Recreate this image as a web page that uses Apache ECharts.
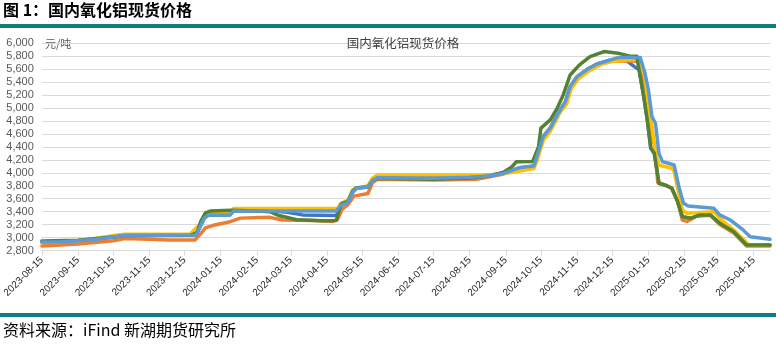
<!DOCTYPE html>
<html>
<head>
<meta charset="utf-8">
<script src="https://cdn.jsdelivr.net/npm/echarts@6/dist/echarts.min.js"></script>
<style>
  html, body { margin: 0; padding: 0; background: #ffffff; }
  #chart { width: 776px; height: 344px; }
</style>
</head>
<body>
<div id="chart"></div>
<script>
// 国内氧化铝现货价格（元/吨），各产区日度报价
const regionNames = ['地区A', '地区B', '地区C', '地区D', '地区E'];

const regionA = [
  ['2023-08-15', 2930], ['2023-09-15', 2950], ['2023-10-15', 3010], ['2023-10-25', 3030],
  ['2023-12-25', 3040], ['2023-12-28', 3150], ['2024-01-01', 3300], ['2024-01-05', 3350],
  ['2024-01-23', 3350], ['2024-01-26', 3410], ['2024-03-01', 3410], ['2024-03-12', 3390],
  ['2024-03-25', 3350], ['2024-04-23', 3340], ['2024-04-27', 3500], ['2024-05-03', 3540],
  ['2024-05-07', 3700], ['2024-05-10', 3760], ['2024-05-20', 3780], ['2024-05-24', 3880],
  ['2024-05-28', 3925], ['2024-08-15', 3930], ['2024-09-13', 3990], ['2024-09-27', 4080],
  ['2024-10-09', 4106], ['2024-10-12', 4276], ['2024-10-17', 4560], ['2024-10-23', 4690],
  ['2024-10-29', 4895], ['2024-11-05', 5100], ['2024-11-09', 5330], ['2024-11-15', 5486],
  ['2024-11-23', 5590], ['2024-12-02', 5680], ['2024-12-13', 5740], ['2024-12-20', 5760],
  ['2024-12-28', 5720], ['2025-01-03', 5640], ['2025-01-07', 5590], ['2025-01-11', 5177],
  ['2025-01-14', 4817], ['2025-01-17', 4380], ['2025-01-20', 4302], ['2025-01-24', 3839],
  ['2025-01-31', 3797], ['2025-02-04', 3761], ['2025-02-09', 3555], ['2025-02-13', 3323],
  ['2025-02-20', 3297], ['2025-02-28', 3349], ['2025-03-09', 3349], ['2025-03-17', 3220],
  ['2025-03-29', 3090], ['2025-04-09', 2885], ['2025-04-29', 2885]
];

const regionB = [
  ['2023-08-15', 2870], ['2023-09-15', 2900], ['2023-10-15', 2950], ['2023-10-25', 2985],
  ['2023-11-15', 2975], ['2023-12-01', 2962], ['2023-12-24', 2962], ['2023-12-29', 3060],
  ['2024-01-02', 3150], ['2024-01-08', 3185], ['2024-01-23', 3245], ['2024-02-01', 3300],
  ['2024-02-26', 3312], ['2024-03-08', 3270], ['2024-04-05', 3265], ['2024-04-20', 3248],
  ['2024-04-24', 3280], ['2024-04-28', 3440], ['2024-05-03', 3510], ['2024-05-08', 3640],
  ['2024-05-20', 3680], ['2024-05-24', 3850], ['2024-05-28', 3900], ['2024-07-15', 3890],
  ['2024-08-21', 3900], ['2024-09-10', 3970], ['2024-09-27', 4060], ['2024-10-09', 4100],
  ['2024-10-12', 4270], ['2024-10-17', 4560], ['2024-10-23', 4700], ['2024-10-29', 4890],
  ['2024-11-05', 5100], ['2024-11-09', 5330], ['2024-11-15', 5480], ['2024-11-23', 5590],
  ['2024-12-02', 5680], ['2024-12-13', 5720], ['2024-12-30', 5730], ['2025-01-06', 5720],
  ['2025-01-08', 5640], ['2025-01-11', 5300], ['2025-01-14', 4850], ['2025-01-18', 4480],
  ['2025-01-20', 4450], ['2025-01-23', 3850], ['2025-01-31', 3800], ['2025-02-04', 3760],
  ['2025-02-09', 3555], ['2025-02-13', 3271], ['2025-02-17', 3250], ['2025-02-25', 3330],
  ['2025-03-09', 3345], ['2025-03-17', 3200], ['2025-03-29', 3070], ['2025-04-09', 2870],
  ['2025-04-29', 2870]
];

const regionC = [
  ['2023-08-15', 2930], ['2023-09-15', 2955], ['2023-10-01', 2990], ['2023-10-15', 3030],
  ['2023-10-25', 3050], ['2023-12-20', 3055], ['2023-12-28', 3200], ['2024-01-02', 3340],
  ['2024-01-06', 3375], ['2024-01-24', 3380], ['2024-01-26', 3450], ['2024-04-24', 3450],
  ['2024-04-27', 3530], ['2024-05-03', 3580], ['2024-05-07', 3740], ['2024-05-20', 3800],
  ['2024-05-24', 3920], ['2024-05-28', 3965], ['2024-09-01', 3965], ['2024-09-13', 3985],
  ['2024-10-09', 4065], ['2024-10-12', 4200], ['2024-10-17', 4500], ['2024-10-23', 4640],
  ['2024-11-01', 4950], ['2024-11-06', 5060], ['2024-11-10', 5300], ['2024-11-16', 5450],
  ['2024-11-25', 5570], ['2024-12-05', 5670], ['2024-12-15', 5720], ['2024-12-30', 5745],
  ['2025-01-06', 5745], ['2025-01-08', 5667], ['2025-01-12', 5486], ['2025-01-15', 5022],
  ['2025-01-18', 4713], ['2025-01-21', 4302], ['2025-01-24', 4120], ['2025-02-04', 4070],
  ['2025-02-06', 4018], ['2025-02-10', 3684], ['2025-02-13', 3426], ['2025-02-17', 3375],
  ['2025-03-12', 3400], ['2025-03-17', 3297], ['2025-03-29', 3117], ['2025-04-11', 2885],
  ['2025-04-29', 2885]
];

const regionD = [
  ['2023-08-15', 2945], ['2023-09-15', 2960], ['2023-10-15', 3010], ['2023-10-25', 3030],
  ['2023-12-20', 3035], ['2023-12-26', 3080], ['2023-12-29', 3250], ['2024-01-02', 3380],
  ['2024-01-06', 3410], ['2024-01-24', 3420], ['2024-02-15', 3410], ['2024-02-26', 3400],
  ['2024-03-05', 3340], ['2024-03-20', 3275], ['2024-04-10', 3260], ['2024-04-23', 3265],
  ['2024-04-27', 3520], ['2024-05-03', 3560], ['2024-05-07', 3720], ['2024-05-10', 3770],
  ['2024-05-20', 3780], ['2024-05-24', 3880], ['2024-05-28', 3915], ['2024-07-15', 3900],
  ['2024-08-15', 3920], ['2024-09-01', 3950], ['2024-09-13', 4010], ['2024-09-20', 4090],
  ['2024-09-24', 4170], ['2024-10-08', 4175], ['2024-10-13', 4405], ['2024-10-15', 4690],
  ['2024-10-23', 4817], ['2024-10-29', 5000], ['2024-11-03', 5200], ['2024-11-09', 5510],
  ['2024-11-17', 5667], ['2024-11-26', 5795], ['2024-12-08', 5873], ['2024-12-20', 5848],
  ['2024-12-30', 5800], ['2025-01-05', 5800], ['2025-01-07', 5590], ['2025-01-11', 5177],
  ['2025-01-14', 4817], ['2025-01-17', 4380], ['2025-01-20', 4302], ['2025-01-24', 3839],
  ['2025-01-31', 3797], ['2025-02-04', 3761], ['2025-02-09', 3555], ['2025-02-13', 3323],
  ['2025-02-20', 3297], ['2025-02-28', 3349], ['2025-03-09', 3349], ['2025-03-17', 3220],
  ['2025-03-29', 3090], ['2025-04-09', 2885], ['2025-04-29', 2885]
];

const regionE = [
  ['2023-08-15', 2930], ['2023-09-01', 2935], ['2023-09-15', 2950], ['2023-10-01', 2975],
  ['2023-10-15', 3010], ['2023-10-25', 3030], ['2023-12-25', 3040], ['2023-12-28', 3150],
  ['2024-01-01', 3300], ['2024-01-05', 3350], ['2024-01-23', 3350], ['2024-01-26', 3410],
  ['2024-04-23', 3410], ['2024-04-27', 3500], ['2024-05-03', 3540], ['2024-05-07', 3700],
  ['2024-05-10', 3760], ['2024-05-20', 3780], ['2024-05-24', 3880], ['2024-05-28', 3925],
  ['2024-06-15', 3920], ['2024-07-15', 3915], ['2024-08-15', 3930], ['2024-09-01', 3950],
  ['2024-09-13', 3990], ['2024-09-27', 4080], ['2024-10-09', 4106], ['2024-10-12', 4276],
  ['2024-10-17', 4560], ['2024-10-23', 4690], ['2024-10-29', 4895], ['2024-11-05', 5100],
  ['2024-11-09', 5330], ['2024-11-15', 5486], ['2024-11-23', 5590], ['2024-12-02', 5680],
  ['2024-12-13', 5740], ['2024-12-20', 5780], ['2025-01-08', 5780], ['2025-01-12', 5540],
  ['2025-01-15', 5280], ['2025-01-18', 4870], ['2025-01-21', 4766], ['2025-01-24', 4300],
  ['2025-01-27', 4172], ['2025-02-01', 4148], ['2025-02-06', 4120], ['2025-02-10', 3786],
  ['2025-02-14', 3530], ['2025-02-18', 3488], ['2025-03-12', 3452], ['2025-03-17', 3349],
  ['2025-03-26', 3271], ['2025-04-06', 3117], ['2025-04-12', 3013], ['2025-04-29', 2975]
];

// 横轴刻度：每月 15 日
const tickDates = [
  '2023-08-15', '2023-09-15', '2023-10-15', '2023-11-15', '2023-12-15', '2024-01-15',
  '2024-02-15', '2024-03-15', '2024-04-15', '2024-05-15', '2024-06-15', '2024-07-15',
  '2024-08-15', '2024-09-15', '2024-10-15', '2024-11-15', '2024-12-15', '2025-01-15',
  '2025-02-15', '2025-03-15', '2025-04-15'
];

const axisStart = '2023-08-15';
const axisEnd = '2025-04-29';

// 日期换算为距起始日的天数，横轴按日历天数等距排布
const DAY = 86400000;
function toTime(s) {
  const p = s.split('-').map(Number);
  return Date.UTC(p[0], p[1] - 1, p[2]);
}
const t0 = toTime(axisStart);
function toDay(s) { return Math.round((toTime(s) - t0) / DAY); }
function pad(n) { return n < 10 ? '0' + n : '' + n; }
function fmtDay(d) {
  const t = new Date(t0 + Math.round(d) * DAY);
  return t.getUTCFullYear() + '-' + pad(t.getUTCMonth() + 1) + '-' + pad(t.getUTCDate());
}
function toPoints(rows) { return rows.map(r => [toDay(r[0]), r[1]]); }

const tickDays = tickDates.map(toDay);
const seriesRows = [regionA, regionB, regionC, regionD, regionE];
const seriesColors = ['#4472C4', '#ED7D31', '#FFC000', '#548235', '#5B9BD5'];

const chart = echarts.init(document.getElementById('chart'), null, { renderer: 'canvas' });

chart.setOption({
  animation: false,
  backgroundColor: '#ffffff',
  title: [
    {
      text: '图 1：国内氧化铝现货价格',
      left: 3, top: 2, padding: 0,
      textStyle: { fontFamily: 'Noto Sans CJK SC', fontSize: 16, fontWeight: 'bold', color: '#000000' }
    },
    {
      text: '国内氧化铝现货价格',
      left: 403, top: 37, textAlign: 'center', padding: 0,
      textStyle: { fontFamily: 'Noto Sans CJK SC', fontSize: 12.5, fontWeight: 'normal', color: '#404040' }
    },
    {
      text: '资料来源：iFind 新湖期货研究所',
      left: 3, top: 322, padding: 0,
      textStyle: { fontFamily: 'Noto Sans CJK SC', fontSize: 16, fontWeight: 'normal', color: '#000000' }
    }
  ],
  graphic: [
    { type: 'rect', left: 0, top: 24, shape: { width: 776, height: 4 }, style: { fill: '#0E7F7C' } },
    { type: 'rect', left: 0, top: 313, shape: { width: 776, height: 4 }, style: { fill: '#0E7F7C' } },
    {
      type: 'text', left: 45, top: 38,
      style: { text: '元/吨', fontFamily: 'Noto Sans CJK SC', fontSize: 11, fill: '#595959' }
    }
  ],
  grid: { left: 41.7, right: 6, top: 43.3, bottom: 93.5, containLabel: false },
  xAxis: {
    type: 'value',
    min: 0,
    max: toDay(axisEnd),
    axisLine: { show: true, lineStyle: { color: '#D9D9D9', width: 1 } },
    axisTick: { show: true, customValues: tickDays, length: 5, inside: false, lineStyle: { color: '#D9D9D9' } },
    axisLabel: {
      customValues: tickDays,
      rotate: 45,
      margin: 8,
      fontFamily: 'Liberation Sans',
      fontSize: 10,
      color: '#262626',
      hideOverlap: false,
      formatter: function (v) { return fmtDay(v); }
    },
    splitLine: { show: false }
  },
  yAxis: {
    type: 'value',
    min: 2800,
    max: 6000,
    interval: 200,
    axisLine: { show: false },
    axisTick: { show: false },
    axisLabel: {
      fontFamily: 'Liberation Sans',
      fontSize: 11,
      color: '#595959',
      margin: 8,
      formatter: function (v) { return v.toLocaleString('en-US'); }
    },
    splitLine: { show: true, lineStyle: { color: '#D9D9D9', width: 1 } }
  },
  series: seriesRows.map((rows, i) => ({
    name: regionNames[i],
    type: 'line',
    data: toPoints(rows),
    showSymbol: false,
    symbol: 'none',
    smooth: false,
    lineStyle: { color: seriesColors[i], width: 3.5, join: 'round', cap: 'round' },
    itemStyle: { color: seriesColors[i] },
    z: 2 + i
  }))
});
</script>
</body>
</html>
